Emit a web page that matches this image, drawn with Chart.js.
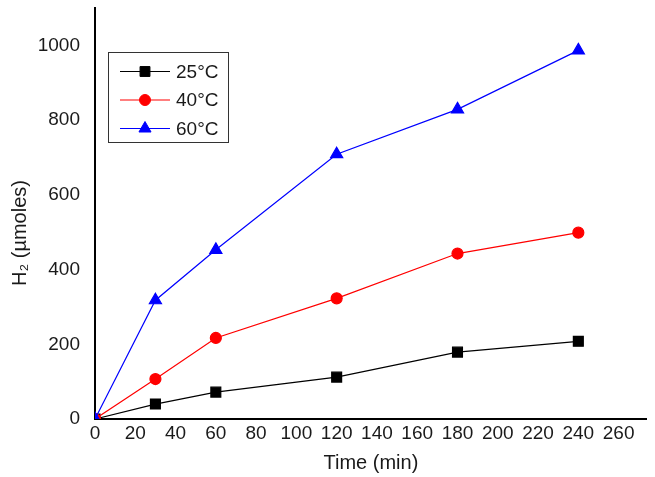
<!DOCTYPE html>
<html>
<head>
<meta charset="utf-8">
<script src="https://cdn.jsdelivr.net/npm/chart.js@4/dist/chart.umd.min.js"></script>
<style>
  html, body { margin: 0; padding: 0; background: #fff; }
  #wrap { width: 655px; height: 477px; position: relative; }
</style>
</head>
<body>
<div id="wrap"><canvas id="c" width="655" height="477"></canvas></div>
<script>
// ---- data ----
const timeMin = [0, 30, 60, 120, 180, 240];
const h2At25 = [0, 40, 72, 112, 179, 208];
const h2At40 = [0, 107, 217, 323, 443, 499];
const h2At60 = [0, 318, 453, 709, 829, 987];
const seriesLabels = ['25°C', '40°C', '60°C'];
const xTickValues = [0, 20, 40, 60, 80, 100, 120, 140, 160, 180, 200, 220, 240, 260];
const yTickValues = [0, 200, 400, 600, 800, 1000];

const FONT = '"Liberation Sans", Arial, sans-serif';
const TXT = '#1a1a1a';

function pts(ys) { return timeMin.map((x, i) => ({ x: x, y: ys[i] })); }

const legendBox = {
  id: 'legendBox',
  afterDraw(chart) {
    const ctx = chart.ctx;
    const bx = 108.5, by = 52.5, bw = 120, bh = 90;
    ctx.save();
    ctx.lineWidth = 1;
    ctx.strokeStyle = '#333';
    ctx.strokeRect(bx, by, bw, bh);
    const rows = [71.5, 100, 128.5];
    chart.data.datasets.forEach((ds, i) => {
      const y = rows[i];
      ctx.strokeStyle = ds.borderColor;
      ctx.lineWidth = ds.borderWidth;
      ctx.beginPath();
      ctx.moveTo(120, y);
      ctx.lineTo(170, y);
      ctx.stroke();
      ctx.fillStyle = ds.pointBackgroundColor;
      ctx.strokeStyle = ds.pointBorderColor;
      ctx.lineWidth = 1;
      if (Chart.helpers && Chart.helpers.drawPoint) {
        Chart.helpers.drawPoint(ctx, { pointStyle: ds.pointStyle, radius: ds.pointRadius, rotation: 0, borderWidth: 1 }, 145, y);
      }
      ctx.fillStyle = TXT;
      ctx.font = '19px ' + FONT;
      ctx.textAlign = 'left';
      ctx.textBaseline = 'middle';
      ctx.fillText(ds.label, 176, y + 1);
    });
    ctx.restore();
  }
};

new Chart(document.getElementById('c'), {
  type: 'scatter',
  data: {
    datasets: [
      { label: seriesLabels[0], data: pts(h2At25), showLine: true, borderColor: '#000', backgroundColor: '#000',
        pointBackgroundColor: '#000', pointBorderColor: '#000', borderWidth: 1.2,
        pointStyle: 'rect', pointRadius: 7, pointHoverRadius: 7, order: 2 },
      { label: seriesLabels[1], data: pts(h2At40), showLine: true, borderColor: '#ff0000', backgroundColor: '#ff0000',
        pointBackgroundColor: '#ff0000', pointBorderColor: '#ff0000', borderWidth: 1.2,
        pointStyle: 'circle', pointRadius: 5.5, pointHoverRadius: 5.5, order: 1 },
      { label: seriesLabels[2], data: pts(h2At60), showLine: true, borderColor: '#0000ff', backgroundColor: '#0000ff',
        pointBackgroundColor: '#0000ff', pointBorderColor: '#0000ff', borderWidth: 1.2,
        pointStyle: 'triangle', pointRadius: 7, pointHoverRadius: 7, order: 0 }
    ]
  },
  options: {
    responsive: false,
    animation: false,
    devicePixelRatio: 1,
    layout: { padding: { top: 8, right: 5, left: 0, bottom: 0 } },
    plugins: { legend: { display: false }, tooltip: { enabled: false } },
    scales: {
      x: {
        type: 'linear', min: 0, max: 274,
        afterBuildTicks: s => { s.ticks = xTickValues.map(v => ({ value: v })); },
        afterFit: s => { s.height = 58; s.paddingLeft = 0; s.paddingRight = 0; },
        grid: { display: false, drawTicks: false },
        border: { display: true, color: '#000', width: 2 },
        ticks: { color: TXT, font: { family: FONT, size: 19 }, padding: 3, autoSkip: false, maxRotation: 0,
                 callback: v => String(v) },
        title: { display: true, text: 'Time (min)', color: TXT, font: { family: FONT, size: 20 }, padding: { top: 0, bottom: 2 } }
      },
      y: {
        type: 'linear', min: 0, max: 1100,
        afterBuildTicks: s => { s.ticks = yTickValues.map(v => ({ value: v })); },
        afterFit: s => { s.width = 95; s.paddingTop = 0; s.paddingBottom = 0; },
        grid: { display: false, drawTicks: false },
        border: { display: true, color: '#000', width: 2 },
        ticks: { color: TXT, font: { family: FONT, size: 19 }, padding: 15, callback: v => String(v) },
        title: { display: true, text: 'H\u2082 (\u00b5moles)\u00a0\u00a0\u00a0\u00a0\u00a0\u00a0\u00a0', color: TXT, font: { family: FONT, size: 20 }, padding: { top: 8, bottom: 0 } }
      }
    }
  },
  plugins: [legendBox]
});
</script>
</body>
</html>
